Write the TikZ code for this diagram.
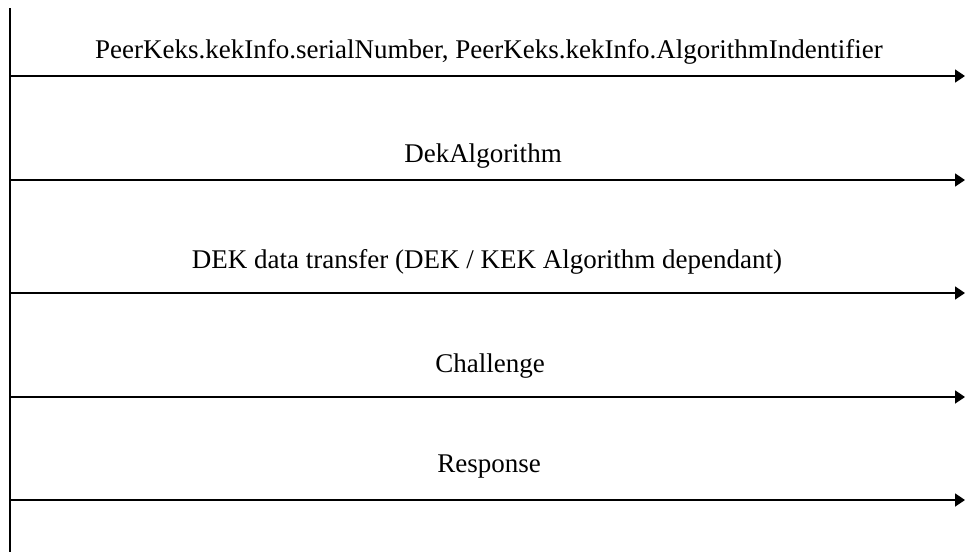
\documentclass[tikz,border=0pt]{standalone}
\usepackage{fontspec}
\setmainfont{Liberation Serif}
\usetikzlibrary{arrows.meta}
\begin{document}
\begin{tikzpicture}[x=1pt,y=-1pt,
  msg/.style={anchor=base,inner sep=0pt,font=\fontsize{27}{31}\selectfont},
  arr/.style={line width=1.8pt,-{Triangle[length=10pt,width=13pt]}},
  life/.style={line width=1.8pt}]
\useasboundingbox (0,0) rectangle (965,552);
\coordinate (top) at (10,8);
\coordinate (bot) at (10,552);
\draw[life] (top) -- (bot);
\foreach \n/\y in {a/76,b/180,c/293,d/397,e/500}{
  \coordinate (\n s) at (10,\y);
  \coordinate (\n e) at (965,\y);
}
\draw[arr] (as) -- (ae);
\draw[arr] (bs) -- (be);
\draw[arr] (cs) -- (ce);
\draw[arr] (ds) -- (de);
\draw[arr] (es) -- (ee);
\node[msg] (ta) at (489,58) {PeerKeks.kekInfo.serialNumber, PeerKeks.kekInfo.AlgorithmIndentifier};
\node[msg] (tb) at (483,162) {DekAlgorithm};
\node[msg] (tc) at (487,268) {DEK data transfer (DEK / KEK Algorithm dependant)};
\node[msg] (td) at (490,372) {Challenge};
\node[msg] (te) at (489,472) {Response};
\end{tikzpicture}
\end{document}
